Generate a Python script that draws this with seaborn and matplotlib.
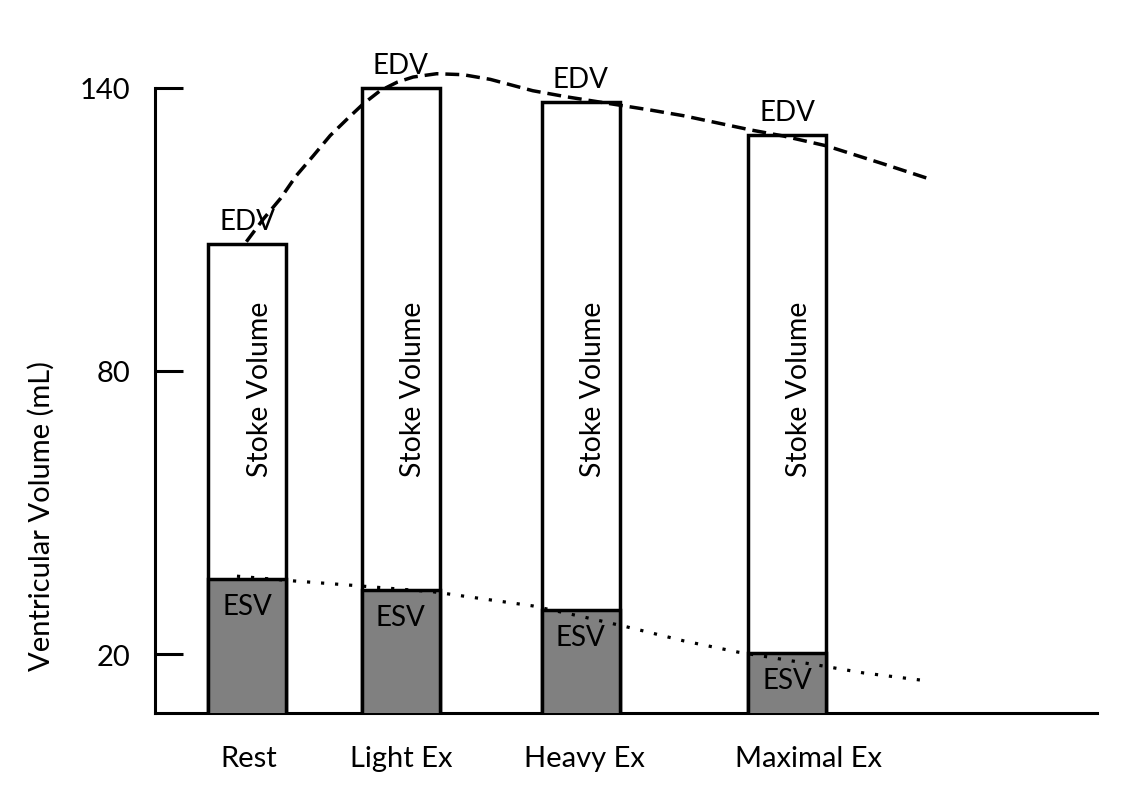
import numpy as np
import seaborn as sns
import matplotlib.pyplot as plt

# ventricular volumes (mL) per condition
conditions = ['Rest', 'Light Ex', 'Heavy Ex', 'Maximal Ex']
edv = [107, 140, 137, 130]
esv = [36, 33.5, 29.3, 20.2]

# hand drawn trend curves (x in plot units, y in mL)
edv_curve_x = [9.7, 11.5, 13.3, 15.0, 16.8, 18.6, 20.4, 22.1, 23.9, 25.7, 27.4, 29.9,
               32.7, 35.6, 40.1, 43.7, 47.2, 52.6, 56.1, 63.2, 66.7, 71.3, 77.3, 81.9]
edv_curve_y = [107.4, 112.2, 116.5, 121.4, 125.6, 129.9, 133.4, 136.6, 139.4, 141.2, 142.3, 143.0,
               142.8, 141.8, 139.4, 138.1, 137.0, 135.3, 134.1, 131.1, 129.8, 127.7, 123.9, 120.9]
esv_curve_x = [8.7, 14.7, 20.7, 29.5, 34.8, 40.1, 45.4, 50.2, 56.1, 61.9, 65.0, 70.8, 75.2, 81.2]
esv_curve_y = [36.5, 35.5, 34.6, 33.2, 31.7, 30.2, 27.9, 25.7, 22.8, 20.4, 19.4, 17.5, 16.0, 14.5]

yticks = [20, 80, 140]

# layout
bar_pos = [9.8, 26.1, 45.2, 67.1]
label_pos = [9.9, 26.1, 45.6, 69.4]
bar_width = 8.3

sns.set_theme(style='white')
plt.rcParams['font.family'] = ['Lato', 'DejaVu Sans']
plt.rcParams['text.color'] = 'black'
plt.rcParams['axes.labelcolor'] = 'black'
plt.rcParams['xtick.color'] = 'black'
plt.rcParams['ytick.color'] = 'black'

fig = plt.figure(figsize=(11.44, 8.04), dpi=100)
ax = fig.add_axes([155 / 1144, 90 / 804, 942 / 1144, 694 / 804])

w = bar_width / np.min(np.diff(bar_pos))
sns.barplot(x=bar_pos, y=edv, native_scale=True, orient='x', width=w, color='white',
            saturation=1, edgecolor='black', linewidth=2.5, errorbar=None, ax=ax, zorder=2)
sns.barplot(x=bar_pos, y=esv, native_scale=True, orient='x', width=w, color='#808080',
            saturation=1, edgecolor='black', linewidth=2.5, errorbar=None, ax=ax, zorder=3)

sns.lineplot(x=edv_curve_x, y=edv_curve_y, color='black', lw=2.5, ls=(0, (4, 2)),
             sort=False, ax=ax, zorder=4)
sns.lineplot(x=esv_curve_x, y=esv_curve_y, color='black', lw=2.3, ls=(0, (1, 3.4)),
             sort=False, ax=ax, zorder=4)

fs = 21
for x, top, bottom in zip(bar_pos, edv, esv):
    ax.annotate('EDV', (x, top), xytext=(0, 16.5), textcoords='offset points',
                ha='center', va='center', fontsize=20, zorder=5)
    ax.annotate('ESV', (x, bottom), xytext=(0, -19.5), textcoords='offset points',
                ha='center', va='center', fontsize=20, zorder=5)
    ax.text(x + 1.3, 76.4, 'Stoke Volume', rotation=90, ha='center', va='center',
            fontsize=20.5, zorder=5)

ax.set_xlim(0, 100)
ax.set_ylim(7.5, 154.6)
ax.set_xticks(label_pos)
ax.set_xticklabels(conditions, fontsize=fs)
ax.set_yticks(yticks)
ax.set_yticklabels([str(t) for t in yticks], fontsize=fs)
ax.tick_params(axis='x', bottom=False, length=0, pad=23)
ax.tick_params(axis='y', left=True, direction='in', length=20, width=2.2, pad=18)

sns.despine(ax=ax)
for side in ['left', 'bottom']:
    ax.spines[side].set_linewidth(2.2)
    ax.spines[side].set_color('black')
ax.spines['left'].set_bounds(7.5, 140)

ax.set_ylabel('Ventricular Volume (mL)', fontsize=fs)
ax.yaxis.set_label_coords(-0.106, 0.285)

fig.savefig('out.png', dpi=100)
